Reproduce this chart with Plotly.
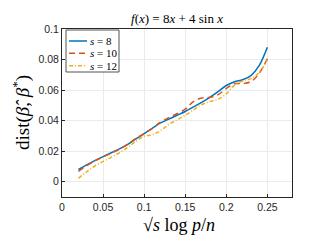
import plotly.graph_objects as go

x_vals = [0.02, 0.03, 0.04, 0.05, 0.06, 0.07, 0.08, 0.09, 0.10, 0.11, 0.12, 0.13,
          0.14, 0.15, 0.16, 0.17, 0.18, 0.19, 0.20, 0.21, 0.22, 0.23, 0.24, 0.25]
s8 = [0.008, 0.011, 0.0138, 0.0164, 0.019, 0.0215, 0.0245, 0.028, 0.0315, 0.035, 0.0385, 0.041,
      0.0435, 0.046, 0.049, 0.052, 0.0553, 0.059, 0.063, 0.0655, 0.0668, 0.0695, 0.076, 0.088]
s10 = [0.0068, 0.0105, 0.0137, 0.0163, 0.0188, 0.0213, 0.0245, 0.0283, 0.0315, 0.035, 0.039, 0.042,
       0.0445, 0.0475, 0.0525, 0.0548, 0.0553, 0.057, 0.061, 0.0642, 0.0643, 0.0655, 0.071, 0.0805]
s12 = [0.0022, 0.0065, 0.0103, 0.0133, 0.016, 0.019, 0.0225, 0.0265, 0.0298, 0.0308, 0.0335, 0.0375,
       0.0405, 0.0435, 0.047, 0.0505, 0.0525, 0.054, 0.0575, 0.0633, 0.066, 0.0675, 0.0715, 0.0797]
series_names = ["<i>s</i> = 8", "<i>s</i> = 10", "<i>s</i> = 12"]
x_ticks = [0, 0.05, 0.1, 0.15, 0.2, 0.25]
x_tick_labels = ["0", "0.05", "0.1", "0.15", "0.2", "0.25"]
y_ticks = [0, 0.02, 0.04, 0.06, 0.08, 0.1]
y_tick_labels = ["0", "0.02", "0.04", "0.06", "0.08", "0.1"]

colors = ["#0072BD", "#D95319", "#EDB120"]
dashes = ["solid", "6px,4px", "4px,2px,1px,2px"]

serif = "Liberation Serif, DejaVu Serif, serif"
W, H = 332, 249
OFF = 8  # page body margin offset
# plot-area edges in page pixels
SL, SR, ST, SB = 62, 292, 29, 197
L, T = SL - OFF, ST - OFF
R, B = W - (SR - OFF), H - (SB - OFF)
pw, ph = SR - SL, SB - ST

fig = go.Figure()
for ys, name, c, d in zip([s8, s10, s12], series_names, colors, dashes):
    fig.add_trace(go.Scatter(x=x_vals, y=ys, mode="lines", name=name, showlegend=False,
                             line=dict(color=c, dash=d, width=1.5, shape="spline")))

def px(xp):
    return (xp - SL) / pw

def py(yp):
    return 1 - (yp - ST) / ph

# custom legend box (MATLAB-style, short line samples)
shapes = [dict(type="rect", xref="paper", yref="paper",
               x0=px(66), x1=px(119), y0=py(72), y1=py(30),
               line=dict(color="#262626", width=0.8), fillcolor="white", layer="above")]
annotations = []
row_y = [41, 53.3, 65.7]
for name, c, d, ry in zip(series_names, colors, dashes, row_y):
    shapes.append(dict(type="line", xref="paper", yref="paper",
                       x0=px(69), x1=px(87), y0=py(ry), y1=py(ry),
                       line=dict(color=c, dash=d, width=1.5), layer="above"))
    annotations.append(dict(text=name, xref="paper", yref="paper", x=px(88), y=py(ry),
                            xanchor="left", yanchor="middle", showarrow=False,
                            font=dict(family=serif, size=11, color="black")))

annotations.append(dict(text="<i>f</i>(<i>x</i>) = 8<i>x</i> + 4 sin <i>x</i>",
                        xref="paper", yref="paper", x=px(177), y=py(19),
                        xanchor="center", yanchor="middle", showarrow=False,
                        font=dict(family=serif, size=13, color="black")))
annotations.append(dict(text="√<i>s</i> log <i>p</i>/<i>n</i>",
                        xref="paper", yref="paper", x=px(179), y=py(225),
                        xanchor="center", yanchor="middle", showarrow=False,
                        font=dict(family=serif, size=18, color="black")))
annotations.append(dict(text="dist(<i>β̂</i>, <i>β</i><sup>*</sup>)",
                        xref="paper", yref="paper", x=px(21), y=py(113),
                        xanchor="center", yanchor="middle", showarrow=False, textangle=-90,
                        font=dict(family=serif, size=19, color="black")))

fig.update_layout(
    width=W, height=H,
    margin=dict(l=L, r=R, t=T, b=B),
    paper_bgcolor="white", plot_bgcolor="white",
    font=dict(family="Liberation Sans, Arial, sans-serif", size=10.5, color="#262626"),
    showlegend=False,
    shapes=shapes, annotations=annotations,
)
fig.update_xaxes(range=[0, 0.28], tickvals=x_ticks, ticktext=x_tick_labels,
                 showgrid=True, gridcolor="#ebebeb", gridwidth=1, automargin=False,
                 showline=True, linecolor="#262626", linewidth=1, mirror=True,
                 ticks="inside", ticklen=3, tickcolor="#262626", zeroline=False)
fig.update_yaxes(range=[-0.01, 0.1], tickvals=y_ticks, ticktext=y_tick_labels,
                 showgrid=True, gridcolor="#ebebeb", gridwidth=1, automargin=False,
                 showline=True, linecolor="#262626", linewidth=1, mirror=True,
                 ticks="inside", ticklen=3, tickcolor="#262626", zeroline=False)

fig.write_html("out.html")
